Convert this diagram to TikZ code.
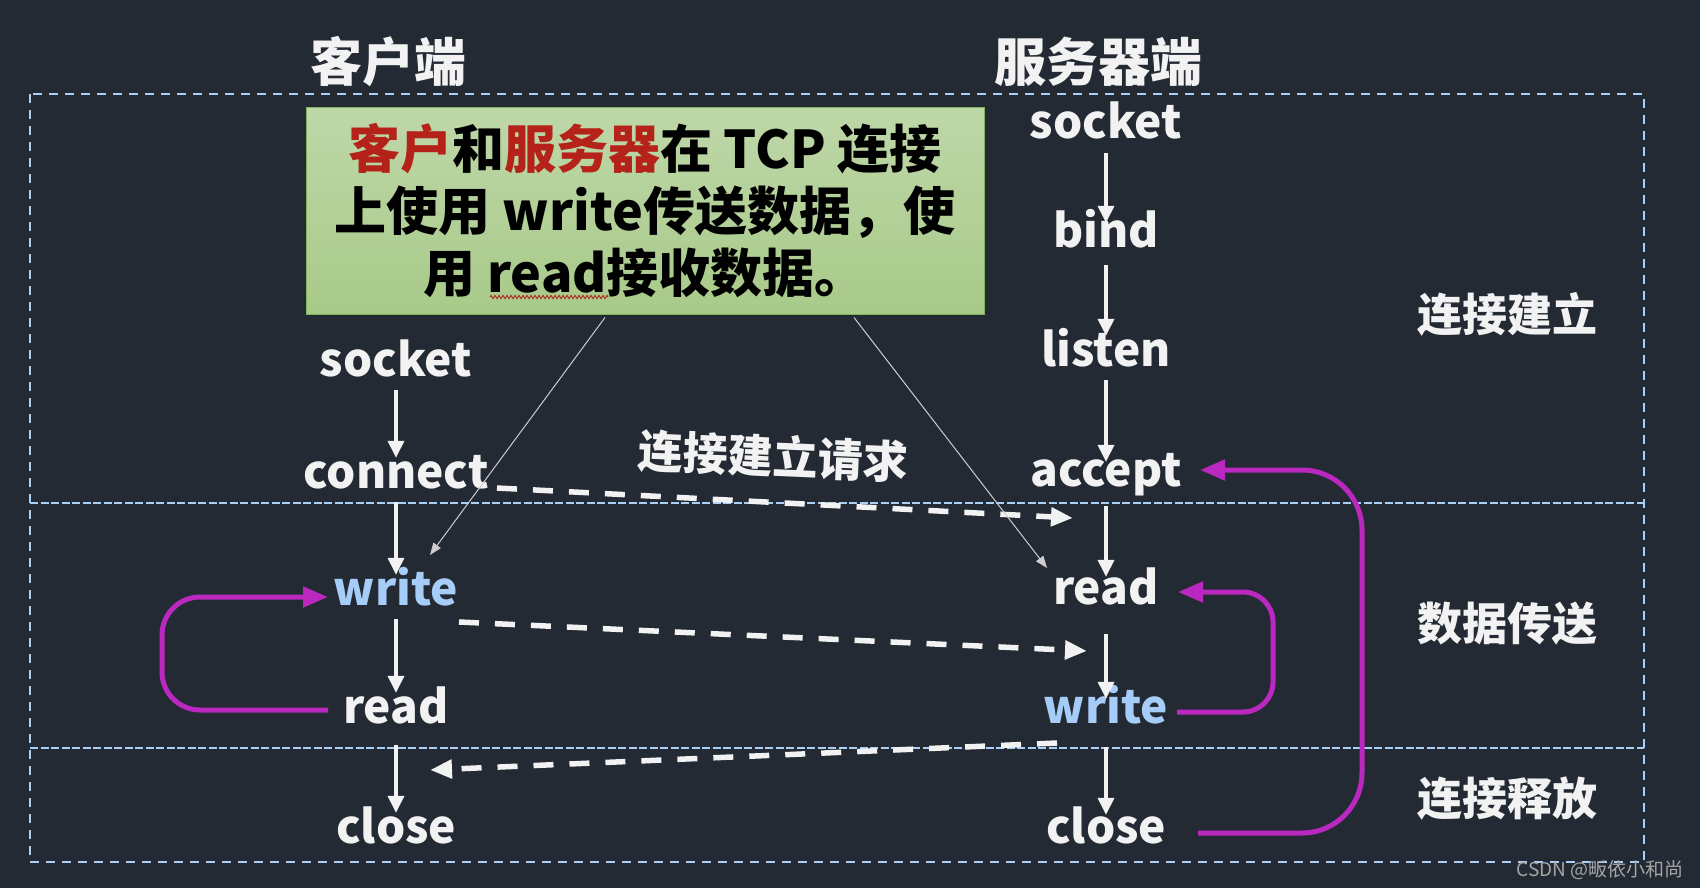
\documentclass[tikz,border=0pt]{standalone}
\usepackage{fontspec}
\setmainfont{Noto Sans CJK SC}
\usetikzlibrary{arrows.meta,decorations.pathmorphing,calc}
\definecolor{bg}{RGB}{36,42,51}
\definecolor{framec}{RGB}{169,208,247}
\definecolor{wtext}{RGB}{242,242,242}
\definecolor{btext}{RGB}{166,205,248}
\definecolor{mag}{RGB}{186,40,192}
\definecolor{boxtop}{RGB}{190,215,168}
\definecolor{boxbot}{RGB}{168,202,137}
\definecolor{boxedge}{RGB}{130,178,90}
\definecolor{redt}{RGB}{180,34,26}
\definecolor{thinc}{RGB}{205,205,205}
\definecolor{wmc}{RGB}{165,165,165}
\begin{document}
\begin{tikzpicture}[x=1pt,y=-1pt,
  stepnode/.style={font=\fontsize{46}{50}\selectfont\bfseries, text=wtext, anchor=base, inner sep=0pt, text height=30pt, text depth=14pt},
  bluenode/.style={stepnode, text=btext},
  titlenode/.style={font=\fontsize{52}{56}\selectfont\bfseries, text=wtext},
  sidenode/.style={font=\fontsize{45}{48}\selectfont\bfseries, text=wtext},
  varrow/.style={draw=wtext, line width=3.6pt, -{Triangle[length=17pt,width=16pt]}},
  dasharrow/.style={draw=wtext, line width=5.5pt, dash pattern=on 20pt off 16pt, -{Triangle[length=22pt,width=18pt]}},
  thinarrow/.style={draw=thinc, line width=1pt, -{Triangle[length=12pt,width=9pt]}},
  looparrow/.style={draw=mag, line width=5pt, -{Triangle[length=25pt,width=20pt]}},
  framestyle/.style={draw=framec, line width=2pt, dash pattern=on 9pt off 7pt},
  dividerstyle/.style={draw=framec, line width=1.5pt, dash pattern=on 8pt off 2.5pt}
]
\fill[bg] (0,0) rectangle (1700,888);
\useasboundingbox (0,0) rectangle (1700,888);

% frame
\draw[framestyle] (30,94) rectangle (1644,862);
\draw[dividerstyle] (30,503) -- (1644,503);
\draw[dividerstyle] (30,748) -- (1644,748);

% titles
\node[titlenode] (tclient) at (388,62) {客户端};
\node[titlenode] (tserver) at (1098,62) {服务器端};

% side labels
\node[sidenode] (l1) at (1507,314) {连接建立};
\node[sidenode] (l2) at (1507,624) {数据传送};
\node[sidenode] (l3) at (1507,799) {连接释放};

% green box
\node[draw=boxedge, line width=1pt, top color=boxtop, bottom color=boxbot,
      minimum width=678pt, minimum height=206pt, inner sep=0pt, align=center,
      font=\fontsize{52}{62}\selectfont\bfseries, text=black] (box) at (645,211)
  {{\color{redt}客户}和{\color{redt}服务器}在 TCP 连接\\上使用 write传送数据，使\\用 read接收数据。};
\draw[redt, line width=0.9pt, decorate, decoration={zigzag, amplitude=1.6pt, segment length=4pt}]
  ($(box.center)+(-155,86)$) -- ++(118,0);

% client column
\node[stepnode] (csocket) at (396,376) {socket};
\node[stepnode] (cconnect) at (396,488) {connect};
\node[bluenode] (cwrite) at (396,605) {write};
\node[stepnode] (cread) at (396,723) {read};
\node[stepnode] (cclose) at (396,843) {close};

% server column
\node[stepnode] (ssocket) at (1106,139) {socket};
\node[stepnode] (sbind) at (1106,247) {bind};
\node[stepnode] (slisten) at (1106,366) {listen};
\node[stepnode] (saccept) at (1106,486) {accept};
\node[stepnode] (sread) at (1106,604) {read};
\node[bluenode] (swrite) at (1106,723) {write};
\node[stepnode] (sclose) at (1106,843) {close};

% vertical arrows
\draw[varrow] (csocket.south) -- (cconnect.north);
\draw[varrow] (cconnect.south) -- (cwrite.north);
\draw[varrow] (cwrite.south) -- (cread.north);
\draw[varrow] ([yshift=-8pt]cread.south) -- (cclose.north);
\draw[varrow] (ssocket.south) -- ([yshift=-6pt]sbind.north);
\draw[varrow] ([yshift=-4pt]sbind.south) -- (slisten.north);
\draw[varrow] (slisten.south) -- ([yshift=-6pt]saccept.north);
\draw[varrow] ([yshift=-6pt]saccept.south) -- ([yshift=-3pt]sread.north);
\draw[varrow] ([yshift=-16pt]sread.south) -- ([yshift=-6pt]swrite.north);
\draw[varrow] ([yshift=-10pt]swrite.south) -- ([yshift=-2pt]sclose.north);

% dashed message arrows
\draw[dasharrow] ([shift={(101,0)}]cconnect.base) -- ([shift={(-33,32)}]saccept.base);
\node[sidenode, rotate=-2.5] (req) at (773,456) {连接建立请求};
\draw[dasharrow] ([shift={(63,17)}]cwrite.base) -- ([shift={(-19,47)}]sread.base);
\draw[dasharrow] ([shift={(-49,20)}]swrite.base) -- ([shift={(34,-73)}]cclose.base);

% thin pointer lines
\draw[thinarrow] ([shift={(-40,3)}]box.south) -- ([shift={(34,-50)}]cwrite.base);
\draw[thinarrow] ([shift={(209,3)}]box.south) -- ([shift={(-59,-36)}]sread.base);

% magenta loops
\draw[looparrow, rounded corners=38pt] ([shift={(-68,-13)}]cread.base) -- ++(-166,0) -- ++(0,-113) -- ([shift={(-68,-8)}]cwrite.base);
\draw[looparrow, rounded corners=30pt] ([shift={(71,-11)}]swrite.base) -- ++(96,0) -- ++(0,-120) -- ([shift={(72,-12)}]sread.base);
\draw[looparrow, rounded corners=60pt] ([shift={(92,-10)}]sclose.base) -- ++(164,0) -- ++(0,-363) -- ([shift={(94,-16)}]saccept.base);

% watermark
\node[font=\fontsize{19}{19}\selectfont, text=wmc, anchor=base east, inner sep=0pt] (wmk) at (1684,876) {CSDN @畈依小和尚};
\end{tikzpicture}
\end{document}
